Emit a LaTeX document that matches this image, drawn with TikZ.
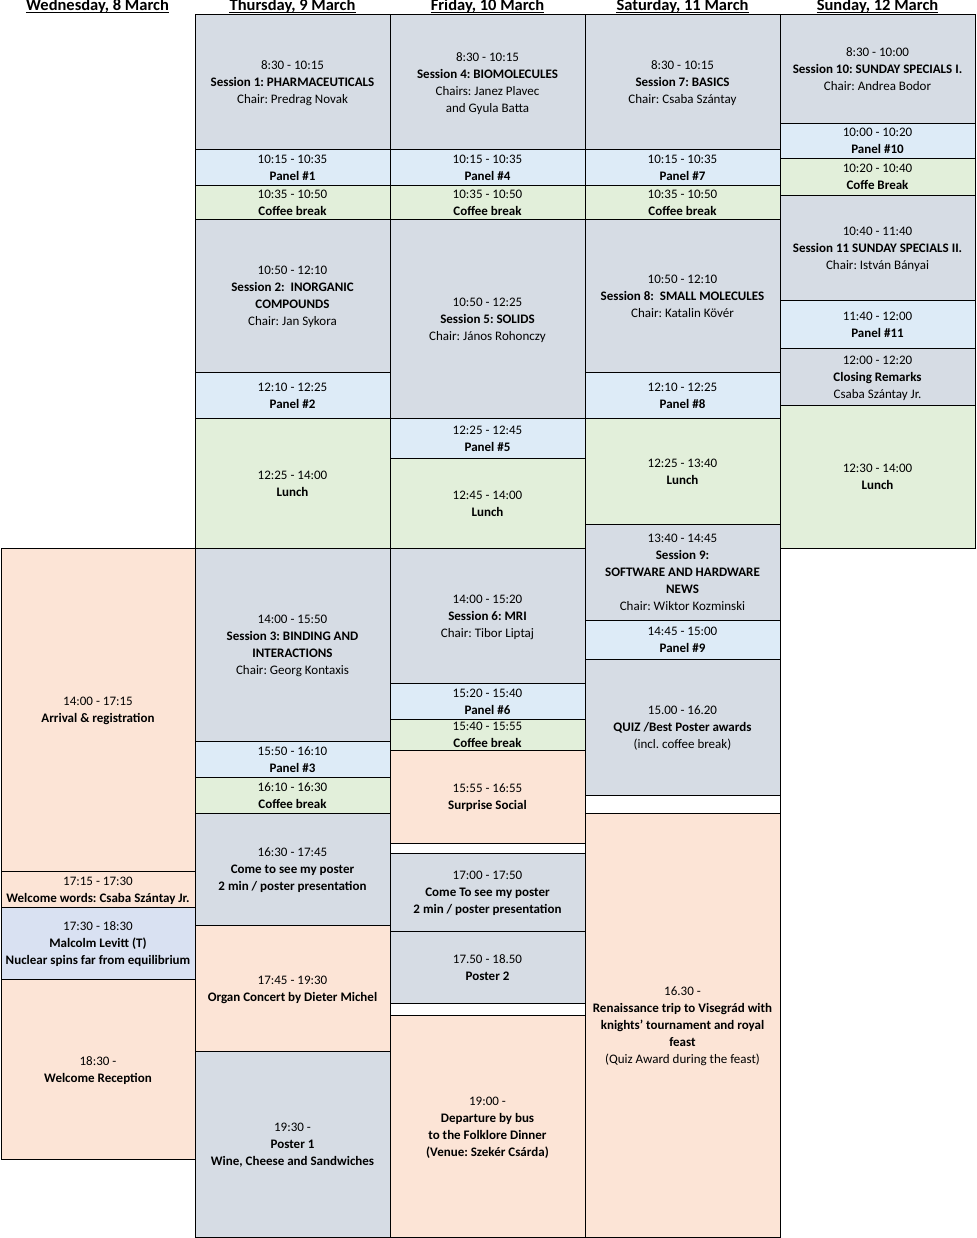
\documentclass[tikz,border=0pt]{standalone}
\usepackage{fontspec}
\setmainfont{Carlito}
\definecolor{talkgray}{HTML}{D6DCE4}
\definecolor{panelblue}{HTML}{DDEBF7}
\definecolor{breakgreen}{HTML}{E2EFDA}
\definecolor{socialpeach}{HTML}{FCE4D6}
\definecolor{plenaryblue}{HTML}{D9E1F2}
\frenchspacing
\begin{document}
\begin{tikzpicture}[x=1pt,y=-1pt,
  cell/.style={draw,line width=1pt,anchor=north west,outer sep=0pt,inner sep=0pt,
    minimum width=195pt,align=center,font=\fontsize{13}{17}\selectfont,text depth=-7pt},
  talk/.style={cell,fill=talkgray},
  panel/.style={cell,fill=panelblue},
  pause/.style={cell,fill=breakgreen},
  social/.style={cell,fill=socialpeach},
  plenary/.style={cell,fill=plenaryblue},
  gap/.style={cell,fill=white,text depth=0pt},
  dayhead/.style={anchor=base,inner sep=0pt,font=\fontsize{16.5}{19}\selectfont\bfseries}]

  \useasboundingbox (0,0) rectangle (976,1238);

  % Day headers
  \foreach \x/\d/\n in {97.5/{Wednesday, 8 March}/hwed,292.5/{Thursday, 9 March}/hthu,
      487.5/{Friday, 10 March}/hfri,682.5/{Saturday, 11 March}/hsat,877.5/{Sunday, 12 March}/hsun}{
    \node[dayhead] (\n) at (\x,11) {\d};
    \draw[line width=1pt] ([yshift=-2pt]\n.base west) -- ([yshift=-2pt]\n.base east);
  }

  % Wednesday
  \node[social,minimum width=194pt,minimum height=323.4pt] (wed1) at (1,548.3) {14:00 - 17:15\\\textbf{Arrival \& registration}};
  \node[social,minimum width=194pt,minimum height=35.6pt] (wed2) at (1,871.7) {17:15 - 17:30\\\textbf{Welcome words: Csaba Szántay Jr.}};
  \node[plenary,minimum width=194pt,minimum height=72pt] (wed3) at (1,907.3) {17:30 - 18:30\\\textbf{Malcolm Levitt (T)}\\\textbf{Nuclear spins far from equilibrium}};
  \node[social,minimum width=194pt,minimum height=180pt] (wed4) at (1,979.3) {18:30 -\\\textbf{Welcome Reception}};

  % Thursday
  \node[talk,minimum height=135pt] (thu1) at (195,15) {8:30 - 10:15\\\textbf{Session 1: PHARMACEUTICALS}\\Chair: Predrag Novak};
  \node[panel,minimum height=36pt] (thu2) at (195,150) {10:15 - 10:35\\\textbf{Panel \#1}};
  \node[pause,minimum height=33.5pt] (thu3) at (195,186) {10:35 - 10:50\\\textbf{Coffee break}};
  \node[talk,minimum height=153pt] (thu4) at (195,219.5) {10:50 - 12:10\\\textbf{Session 2:\ \ INORGANIC}\\\textbf{COMPOUNDS}\\Chair: Jan Sykora};
  \node[panel,minimum height=45.8pt] (thu5) at (195,372.5) {12:10 - 12:25\\\textbf{Panel \#2}};
  \node[pause,minimum height=130pt] (thu6) at (195,418.3) {12:25 - 14:00\\\textbf{Lunch}};
  \node[talk,minimum height=193.4pt] (thu7) at (195,548.3) {14:00 - 15:50\\\textbf{Session 3: BINDING AND}\\\textbf{INTERACTIONS}\\Chair: Georg Kontaxis};
  \node[panel,minimum height=36pt] (thu8) at (195,741.7) {15:50 - 16:10\\\textbf{Panel \#3}};
  \node[pause,minimum height=35.6pt] (thu9) at (195,777.7) {16:10 - 16:30\\\textbf{Coffee break}};
  \node[talk,minimum height=112pt] (thu10) at (195,813.3) {16:30 - 17:45\\\textbf{Come to see my poster}\\\textbf{2 min / poster presentation}};
  \node[social,minimum height=126.4pt] (thu11) at (195,925.3) {17:45 - 19:30\\\textbf{Organ Concert by Dieter Michel}};
  \node[talk,minimum height=185.8pt] (thu12) at (195,1051.7) {19:30 -\\\textbf{Poster 1}\\\textbf{Wine, Cheese and Sandwiches}};

  % Friday
  \node[talk,minimum height=135pt] (fri1) at (390,15) {8:30 - 10:15\\\textbf{Session 4: BIOMOLECULES}\\Chairs: Janez Plavec\\and Gyula Batta};
  \node[panel,minimum height=36pt] (fri2) at (390,150) {10:15 - 10:35\\\textbf{Panel \#4}};
  \node[pause,minimum height=33.5pt] (fri3) at (390,186) {10:35 - 10:50\\\textbf{Coffee break}};
  \node[talk,minimum height=198.8pt] (fri4) at (390,219.5) {10:50 - 12:25\\\textbf{Session 5: SOLIDS}\\Chair: János Rohonczy};
  \node[panel,minimum height=40pt] (fri5) at (390,418.3) {12:25 - 12:45\\\textbf{Panel \#5}};
  \node[pause,minimum height=90pt] (fri6) at (390,458.3) {12:45 - 14:00\\\textbf{Lunch}};
  \node[talk,minimum height=135.4pt] (fri7) at (390,548.3) {14:00 - 15:20\\\textbf{Session 6: MRI}\\Chair: Tibor Liptaj};
  \node[panel,minimum height=35.6pt] (fri8) at (390,683.7) {15:20 - 15:40\\\textbf{Panel \#6}};
  \node[pause,minimum height=31pt] (fri9) at (390,719.3) {15:40 - 15:55\\\textbf{Coffee break}};
  \node[social,minimum height=93pt] (fri10) at (390,750.3) {15:55 - 16:55\\\textbf{Surprise Social}};
  \node[gap,minimum height=10pt] (fri11) at (390,843.3) {};
  \node[talk,minimum height=78pt] (fri12) at (390,853.3) {17:00 - 17:50\\\textbf{Come To see my poster}\\\textbf{2 min / poster presentation}};
  \node[talk,minimum height=72pt] (fri13) at (390,931.3) {17.50 - 18.50\\\textbf{Poster 2}};
  \node[gap,minimum height=12pt] (fri14) at (390,1003.3) {};
  \node[social,minimum height=222.2pt] (fri15) at (390,1015.3) {19:00 -\\\textbf{Departure by bus}\\\textbf{to the Folklore Dinner}\\\textbf{(Venue: Szekér Csárda)}};

  % Saturday
  \node[talk,minimum height=135pt] (sat1) at (585,15) {8:30 - 10:15\\\textbf{Session 7: BASICS}\\Chair: Csaba Szántay};
  \node[panel,minimum height=36pt] (sat2) at (585,150) {10:15 - 10:35\\\textbf{Panel \#7}};
  \node[pause,minimum height=33.5pt] (sat3) at (585,186) {10:35 - 10:50\\\textbf{Coffee break}};
  \node[talk,minimum height=153pt] (sat4) at (585,219.5) {10:50 - 12:10\\\textbf{Session 8:\ \ SMALL MOLECULES}\\Chair: Katalin Kövér};
  \node[panel,minimum height=45.8pt] (sat5) at (585,372.5) {12:10 - 12:25\\\textbf{Panel \#8}};
  \node[pause,minimum height=106pt] (sat6) at (585,418.3) {12:25 - 13:40\\\textbf{Lunch}};
  \node[talk,minimum height=96pt] (sat7) at (585,524.3) {13:40 - 14:45\\\textbf{Session 9:}\\\textbf{SOFTWARE AND HARDWARE}\\\textbf{NEWS}\\Chair: Wiktor Kozminski};
  \node[panel,minimum height=39pt] (sat8) at (585,620.3) {14:45 - 15:00\\\textbf{Panel \#9}};
  \node[talk,minimum height=136pt] (sat9) at (585,659.3) {15.00 - 16.20\\\textbf{QUIZ /Best Poster awards}\\(incl. coffee break)};
  \node[gap,minimum height=18pt] (sat10) at (585,795.3) {};
  \node[social,minimum height=424.2pt] (sat11) at (585,813.3) {16.30 -\\\textbf{Renaissance trip to Visegrád with}\\\textbf{knights’ tournament and royal}\\\textbf{feast}\\(Quiz Award during the feast)};

  % Sunday
  \node[talk,minimum height=108.5pt] (sun1) at (780,15) {8:30 - 10:00\\\textbf{Session 10: SUNDAY SPECIALS I.}\\Chair: Andrea Bodor};
  \node[panel,minimum height=35.5pt] (sun2) at (780,123.5) {10:00 - 10:20\\\textbf{Panel \#10}};
  \node[pause,minimum height=36.3pt] (sun3) at (780,159) {10:20 - 10:40\\\textbf{Coffe Break}};
  \node[talk,minimum height=105pt] (sun4) at (780,195.3) {10:40 - 11:40\\\textbf{Session 11 SUNDAY SPECIALS II.}\\Chair: István Bányai};
  \node[panel,minimum height=48pt] (sun5) at (780,300.3) {11:40 - 12:00\\\textbf{Panel \#11}};
  \node[talk,minimum height=57.4pt] (sun6) at (780,348.3) {12:00 - 12:20\\\textbf{Closing Remarks}\\Csaba Szántay Jr.};
  \node[pause,minimum height=142.3pt] (sun7) at (780,405.7) {12:30 - 14:00\\\textbf{Lunch}};

\end{tikzpicture}
\end{document}
